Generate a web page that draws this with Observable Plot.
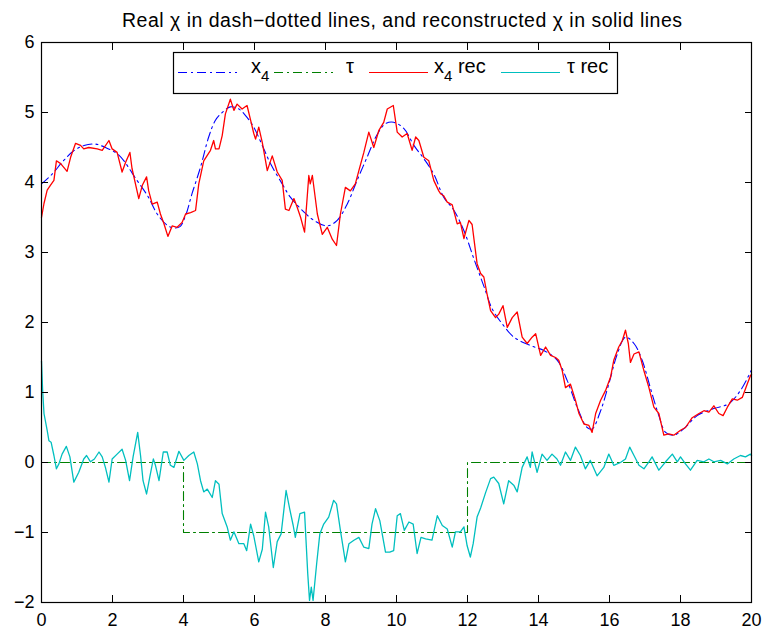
<!DOCTYPE html>
<html>
<head>
<meta charset="utf-8">
<script src="https://cdn.jsdelivr.net/npm/d3@7"></script>
<script src="https://cdn.jsdelivr.net/npm/@observablehq/plot@0.6"></script>
<style>
  body { margin: 0; background: #fff; }
  #chart svg { display: block; }
</style>
</head>
<body>
<div id="chart"></div>
<script>
// Real state x4 (smooth, dash-dotted)
const x4Time = [0, 0.3, 0.6, 0.9, 1.2, 1.5, 1.8, 2.18, 2.69, 3.0, 3.26, 3.54, 3.73, 3.9, 4.06, 4.24, 4.48, 4.71, 4.9, 5.09, 5.32, 5.56, 5.79, 5.98, 6.22, 6.45, 6.78, 7.01, 7.39, 7.67, 8.05, 8.33, 8.61, 8.89, 9.17, 9.46, 9.69, 9.92, 10.21, 10.49, 10.77, 11.05, 11.33, 11.62, 11.9, 12.18, 12.46, 12.7, 12.98, 13.31, 13.78, 14.15, 14.53, 14.81, 15.09, 15.37, 15.51, 15.75, 15.98, 16.22, 16.45, 16.69, 16.92, 17.16, 17.39, 17.58, 17.81, 18.09, 18.47, 18.94, 19.36, 19.69, 19.97, 20];
const x4Value = [3.98, 4.12, 4.3, 4.45, 4.53, 4.55, 4.5, 4.39, 4.03, 3.8, 3.55, 3.39, 3.35, 3.37, 3.53, 3.84, 4.22, 4.65, 4.89, 5.0, 5.08, 5.05, 4.93, 4.79, 4.53, 4.27, 3.98, 3.79, 3.58, 3.46, 3.38, 3.46, 3.69, 4.03, 4.36, 4.69, 4.84, 4.86, 4.77, 4.53, 4.34, 4.12, 3.79, 3.6, 3.31, 2.91, 2.52, 2.19, 1.98, 1.79, 1.67, 1.6, 1.46, 1.17, 0.79, 0.5, 0.48, 0.74, 1.12, 1.55, 1.79, 1.7, 1.46, 1.05, 0.67, 0.43, 0.39, 0.48, 0.67, 0.77, 0.84, 1.03, 1.29, 1.32];

// Real state tau (piecewise constant, dash-dotted)
const tauTime = [0, 4, 4, 12, 12, 20];
const tauValue = [0, 0, -1, -1, 0, 0];

// Reconstructed x4 (solid red)
const x4RecTime = [0, 0.07, 0.16, 0.25, 0.35, 0.42, 0.54, 0.72, 0.82, 0.96, 1.1, 1.19, 1.33, 1.57, 1.71, 1.9, 1.99, 2.13, 2.27, 2.37, 2.49, 2.55, 2.74, 2.84, 2.96, 3.02, 3.12, 3.26, 3.35, 3.45, 3.56, 3.68, 3.82, 3.96, 4.06, 4.2, 4.34, 4.43, 4.57, 4.76, 4.85, 4.9, 5.0, 5.09, 5.18, 5.32, 5.42, 5.51, 5.65, 5.79, 5.89, 5.98, 6.03, 6.12, 6.22, 6.36, 6.5, 6.64, 6.78, 6.87, 6.97, 7.11, 7.2, 7.3, 7.41, 7.53, 7.57, 7.63, 7.77, 7.91, 8.05, 8.19, 8.31, 8.42, 8.56, 8.7, 8.84, 8.94, 9.08, 9.22, 9.36, 9.5, 9.64, 9.74, 9.91, 10.02, 10.16, 10.3, 10.44, 10.54, 10.63, 10.77, 10.91, 11.05, 11.19, 11.24, 11.33, 11.43, 11.57, 11.71, 11.8, 11.9, 12.04, 12.13, 12.2, 12.27, 12.37, 12.46, 12.55, 12.65, 12.79, 12.88, 13.0, 13.12, 13.26, 13.4, 13.54, 13.68, 13.82, 13.92, 14.06, 14.2, 14.34, 14.48, 14.57, 14.67, 14.76, 14.9, 15.04, 15.14, 15.28, 15.42, 15.51, 15.61, 15.75, 15.89, 16.03, 16.12, 16.26, 16.36, 16.45, 16.53, 16.59, 16.69, 16.83, 16.97, 17.11, 17.25, 17.39, 17.53, 17.67, 17.81, 18.0, 18.14, 18.33, 18.52, 18.66, 18.8, 18.94, 19.08, 19.2, 19.32, 19.46, 19.6, 19.74, 19.88, 19.97, 20];
const x4RecValue = [3.5, 3.7, 3.89, 3.96, 4.03, 4.31, 4.27, 4.16, 4.36, 4.56, 4.53, 4.48, 4.5, 4.48, 4.46, 4.6, 4.48, 4.43, 4.15, 4.29, 4.43, 4.2, 3.77, 3.96, 4.08, 3.88, 3.69, 3.72, 3.55, 3.41, 3.23, 3.38, 3.36, 3.43, 3.55, 3.57, 3.6, 3.98, 4.31, 4.46, 4.6, 4.48, 4.48, 4.67, 4.98, 5.19, 5.03, 5.12, 5.05, 5.1, 4.89, 4.7, 4.62, 4.79, 4.57, 4.17, 4.38, 4.15, 4.03, 3.62, 3.6, 3.77, 3.65, 3.5, 3.29, 4.1, 3.98, 4.1, 3.55, 3.26, 3.36, 3.19, 3.1, 3.55, 3.93, 3.88, 3.98, 4.17, 4.43, 4.72, 4.5, 4.74, 4.86, 5.05, 5.1, 4.72, 4.65, 4.7, 4.46, 4.65, 4.6, 4.36, 4.31, 4.03, 3.88, 3.84, 3.81, 3.72, 3.68, 3.41, 3.43, 3.2, 3.46, 3.4, 3.12, 2.84, 2.7, 2.65, 2.41, 2.17, 2.07, 2.12, 2.24, 1.93, 2.07, 2.15, 1.79, 1.7, 1.79, 1.84, 1.53, 1.65, 1.53, 1.5, 1.46, 1.31, 1.07, 1.12, 0.89, 0.7, 0.55, 0.53, 0.43, 0.7, 0.89, 1.03, 1.22, 1.46, 1.65, 1.74, 1.89, 1.7, 1.43, 1.55, 1.58, 1.31, 1.07, 0.79, 0.7, 0.39, 0.41, 0.39, 0.46, 0.5, 0.64, 0.7, 0.74, 0.72, 0.81, 0.7, 0.67, 0.79, 0.91, 0.89, 0.93, 1.12, 1.24, 1.26];

// Reconstructed tau (solid cyan)
const tauRecTime = [0, 0.03, 0.07, 0.16, 0.21, 0.27, 0.35, 0.42, 0.49, 0.58, 0.7, 0.8, 0.91, 1.05, 1.19, 1.27, 1.38, 1.49, 1.62, 1.71, 1.8, 1.9, 1.99, 2.13, 2.27, 2.37, 2.48, 2.58, 2.71, 2.79, 2.86, 2.96, 3.05, 3.15, 3.21, 3.31, 3.43, 3.54, 3.63, 3.73, 3.87, 4.01, 4.15, 4.29, 4.39, 4.48, 4.57, 4.67, 4.81, 4.9, 5.0, 5.09, 5.23, 5.32, 5.42, 5.56, 5.7, 5.78, 5.89, 5.98, 6.12, 6.22, 6.31, 6.4, 6.53, 6.64, 6.75, 6.89, 6.99, 7.09, 7.15, 7.28, 7.41, 7.5, 7.55, 7.6, 7.65, 7.75, 7.84, 7.95, 8.09, 8.23, 8.31, 8.42, 8.56, 8.66, 8.8, 8.94, 9.08, 9.22, 9.31, 9.41, 9.53, 9.69, 9.81, 9.92, 10.02, 10.11, 10.22, 10.35, 10.47, 10.58, 10.69, 10.82, 11.0, 11.15, 11.29, 11.43, 11.57, 11.66, 11.8, 11.9, 11.99, 12.08, 12.16, 12.27, 12.37, 12.51, 12.65, 12.74, 12.88, 13.02, 13.16, 13.31, 13.4, 13.54, 13.68, 13.77, 13.82, 13.96, 14.1, 14.24, 14.38, 14.52, 14.62, 14.76, 14.9, 15.04, 15.18, 15.32, 15.46, 15.65, 15.84, 15.98, 16.12, 16.31, 16.45, 16.57, 16.69, 16.83, 16.97, 17.11, 17.2, 17.39, 17.58, 17.77, 17.91, 18.0, 18.14, 18.28, 18.47, 18.66, 18.8, 18.94, 19.13, 19.32, 19.5, 19.69, 19.83, 19.97, 20];
const tauRecValue = [1.45, 1.05, 0.7, 0.46, 0.31, 0.29, 0.1, -0.09, -0.02, 0.12, 0.23, 0.08, -0.28, -0.14, 0.05, 0.1, 0.01, 0.05, 0.15, 0.08, -0.07, -0.28, 0.05, 0.12, 0.19, 0.03, -0.26, 0.08, 0.43, 0.1, -0.26, -0.45, -0.21, 0.05, -0.04, -0.26, 0.15, 0.15, -0.04, -0.07, 0.16, 0.03, 0.1, 0.15, -0.02, -0.26, -0.42, -0.38, -0.5, -0.26, -0.31, -0.73, -0.92, -1.11, -0.99, -1.16, -1.16, -1.26, -0.88, -1.05, -1.42, -1.24, -0.71, -0.92, -1.5, -1.13, -1.02, -0.4, -0.66, -0.9, -1.07, -0.73, -0.71, -1.59, -1.97, -1.78, -1.97, -1.45, -1.02, -0.88, -0.78, -0.54, -0.59, -0.97, -1.42, -1.16, -1.11, -1.07, -1.21, -1.23, -0.88, -0.66, -0.83, -1.28, -1.28, -1.26, -0.76, -0.73, -0.97, -0.85, -0.88, -1.3, -1.07, -1.09, -1.11, -0.76, -0.9, -0.95, -1.21, -0.99, -0.99, -0.92, -1.19, -1.35, -1.16, -0.78, -0.65, -0.43, -0.23, -0.21, -0.3, -0.59, -0.26, -0.33, -0.42, -0.07, 0.08, -0.07, 0.15, -0.14, 0.12, 0.03, 0.12, 0.05, -0.04, 0.15, 0.03, 0.22, 0.1, -0.09, 0.03, -0.19, -0.07, 0.12, -0.04, 0.0, 0.05, 0.22, 0.1, -0.04, -0.09, 0.01, 0.08, -0.11, 0.01, 0.12, 0.01, 0.08, -0.02, -0.11, 0.03, 0.01, 0.05, 0.01, 0.03, -0.02, 0.05, 0.1, 0.08, 0.12, 0.1];

// Axis ticks
const xTicks = [0, 2, 4, 6, 8, 10, 12, 14, 16, 18, 20];
const yTicks = [-2, -1, 0, 1, 2, 3, 4, 5, 6];

// Legend entries
const legendLabels = ["x4", "τ", "x4 rec", "τ rec"];

const zip = (t, v) => t.map((d, i) => ({t: d, v: v[i]}));

const blue = "#0000ff", green = "#008000", red = "#ff0000", cyan = "#00bfbf";
const dashDot = "9,4,2,4";
const fmt = d3.format("d");
const blank = () => "";

const chart = Plot.plot({
  width: 766,
  height: 633,
  marginLeft: 41,
  marginRight: 15,
  marginTop: 42,
  marginBottom: 31,
  style: {
    fontFamily: "'Liberation Sans', Arial, Helvetica, sans-serif",
    fontSize: "18px",
    background: "#ffffff",
    color: "#000000",
    overflow: "visible"
  },
  x: {domain: [0, 20]},
  y: {domain: [-2, 6]},
  marks: [
    Plot.line(zip(x4Time, x4Value), {x: "t", y: "v", stroke: blue, strokeWidth: 1.1, strokeDasharray: dashDot, curve: "catmull-rom"}),
    Plot.line(zip(tauTime, tauValue), {x: "t", y: "v", stroke: green, strokeWidth: 1.1, strokeDasharray: dashDot}),
    Plot.line(zip(x4RecTime, x4RecValue), {x: "t", y: "v", stroke: red, strokeWidth: 1.3}),
    Plot.line(zip(tauRecTime, tauRecValue), {x: "t", y: "v", stroke: cyan, strokeWidth: 1.3}),
    Plot.frame({stroke: "#000000", strokeWidth: 1.2}),
    Plot.axisX(xTicks, {anchor: "bottom", tickSize: -7, tickPadding: 18, tickFormat: fmt, label: null}),
    Plot.axisX(xTicks, {anchor: "top", tickSize: -7, tickFormat: blank, label: null}),
    Plot.axisY(yTicks, {anchor: "left", tickSize: -7, tickPadding: 14, tickFormat: fmt, label: null}),
    Plot.axisY(yTicks, {anchor: "right", tickSize: -7, tickFormat: blank, label: null})
  ]
});

document.getElementById("chart").appendChild(chart);

// Title and legend drawn on top of the plot
const svg = d3.select(chart);
const font = "'Liberation Sans', Arial, Helvetica, sans-serif";

svg.append("text")
  .attr("x", 402).attr("y", 27)
  .attr("text-anchor", "middle")
  .attr("font-family", font).attr("font-size", 19.5)
  .attr("textLength", 560).attr("lengthAdjust", "spacing")
  .attr("fill", "#000")
  .text("Real χ in dash\u2212dotted lines, and reconstructed χ in solid lines");

const lg = svg.append("g")
  .attr("font-family", font)
  .attr("fill", "#000")
  .attr("text-anchor", "start");
lg.append("rect")
  .attr("x", 173.5).attr("y", 52.5).attr("width", 444).attr("height", 41)
  .attr("fill", "#fff").attr("stroke", "#000").attr("stroke-width", 1.2);

const entries = [
  {stroke: blue, dash: dashDot, x1: 178, x2: 237, tx: 251, label: legendLabels[0]},
  {stroke: green, dash: dashDot, x1: 274, x2: 333, tx: 346, label: legendLabels[1]},
  {stroke: red, dash: null, x1: 369, x2: 428, tx: 434, label: legendLabels[2]},
  {stroke: cyan, dash: null, x1: 501, x2: 560, tx: 567, label: legendLabels[3]}
];
const lineY = 72.5, baseY = 73;
for (const e of entries) {
  lg.append("line")
    .attr("x1", e.x1).attr("x2", e.x2).attr("y1", lineY).attr("y2", lineY)
    .attr("stroke", e.stroke).attr("stroke-width", 1.2)
    .attr("stroke-dasharray", e.dash);
  const t = lg.append("text").attr("x", e.tx).attr("y", baseY).attr("font-size", 20);
  if (e.label.startsWith("x4")) {
    t.append("tspan").text("x");
    t.append("tspan").attr("dy", 8).attr("font-size", 15).text("4");
    if (e.label.endsWith("rec")) t.append("tspan").attr("dy", -8).text(" rec");
  } else {
    t.text(e.label);
  }
}
</script>
</body>
</html>
